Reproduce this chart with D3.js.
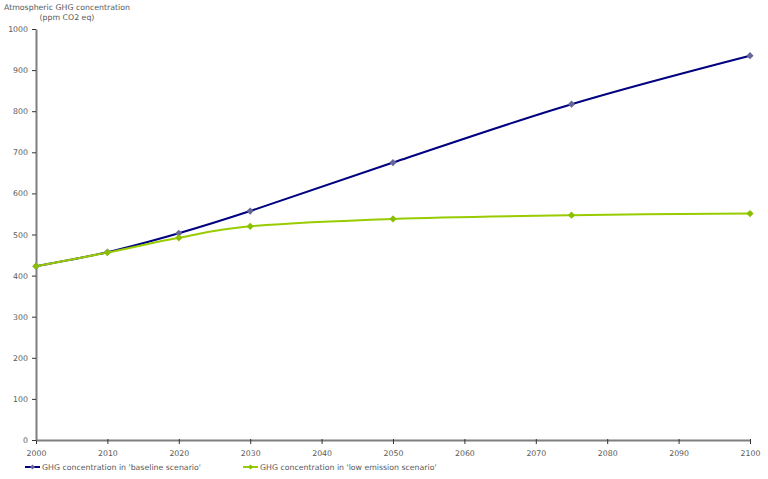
<!DOCTYPE html>
<html><head><meta charset="utf-8">
<script src="https://cdn.jsdelivr.net/npm/d3@7"></script>
<style>body{margin:0;background:#fff}text{font-family:"DejaVu Sans",Verdana,sans-serif;}</style>
</head><body>
<svg id="c" width="768" height="479"></svg>
<script>
const years = [2000, 2010, 2020, 2030, 2050, 2075, 2100];
const baseline = [423, 457, 503, 557, 675, 817, 935];
const lowEmission = [423, 456, 492, 520, 538, 547, 551];
const xTicks = [2000,2010,2020,2030,2040,2050,2060,2070,2080,2090,2100];
const yTicks = [0,100,200,300,400,500,600,700,800,900,1000];
const seriesNames = ["GHG concentration in 'baseline scenario'", "GHG concentration in 'low emission scenario'"];
const titleLines = ["Atmospheric GHG concentration", "(ppm CO2 eq)"];

const FS = "7.8px";
const svg = d3.select("#c");
const x = d3.scaleLinear().domain([2000,2100]).range([36,750]);
const y = d3.scaleLinear().domain([0,1000]).range([440,29]);

// axes
const axisColor = "#7f7f7f";
const gx = svg.append("g").attr("transform","translate(0,440)")
  .call(d3.axisBottom(x).tickValues(xTicks).tickFormat(d3.format("d")).tickSize(4).tickSizeOuter(0).tickPadding(6));
const gy = svg.append("g").attr("transform","translate(36,0)")
  .call(d3.axisLeft(y).tickValues(yTicks).tickFormat(d3.format("d")).tickSize(4).tickSizeOuter(0).tickPadding(4));
[gx,gy].forEach(g=>{
  g.select(".domain").attr("stroke",axisColor).attr("stroke-width",2);
  g.selectAll(".tick line").attr("stroke","#333");
  g.selectAll("text").attr("fill","#595959").attr("font-size",FS).style("font-family","'DejaVu Sans',Verdana,sans-serif");
});
gx.selectAll(".tick line").attr("y1",-1);

// title
const t1 = svg.append("text").attr("fill","#595959").attr("font-size",FS).attr("x",4).attr("y",10).text(titleLines[0]);
const w1 = t1.node().getComputedTextLength();
svg.append("text").attr("fill","#595959").attr("font-size",FS).attr("text-anchor","middle")
  .attr("x",4 + w1/2).attr("y",20).text(titleLines[1]);

const series = [
  {vals: baseline, line:"#000080", marker:"#666699"},
  {vals: lowEmission, line:"#99cc00", marker:"#88c000"}
];
const lineGen = d3.line().x(d=>x(d[0])).y(d=>y(d[1])).curve(d3.curveCatmullRom.alpha(0));
const diamondPath = r => `M0,${-r}L${r},0L0,${r}L${-r},0Z`;

series.forEach(s=>{
  const pts = years.map((yr,i)=>[yr,s.vals[i]]);
  svg.append("path").datum(pts).attr("d",lineGen).attr("fill","none").attr("stroke",s.line).attr("stroke-width",2);
  svg.append("g").selectAll("path").data(pts).join("path")
    .attr("d",diamondPath(3.6)).attr("transform",d=>`translate(${x(d[0])},${y(d[1])})`)
    .attr("fill",s.marker);
});

// legend
const legendX = [25, 243];
series.forEach((s,i)=>{
  const g = svg.append("g").attr("transform",`translate(${legendX[i]},467)`);
  g.append("line").attr("x1",0).attr("x2",15).attr("y1",0).attr("y2",0).attr("stroke",s.line).attr("stroke-width",2);
  g.append("path").attr("d",diamondPath(2.5)).attr("transform","translate(7.5,0)").attr("fill",s.marker);
  g.append("text").attr("x",17).attr("y",3).attr("fill","#595959").attr("font-size",FS).text(seriesNames[i]);
});
</script>
</body></html>
